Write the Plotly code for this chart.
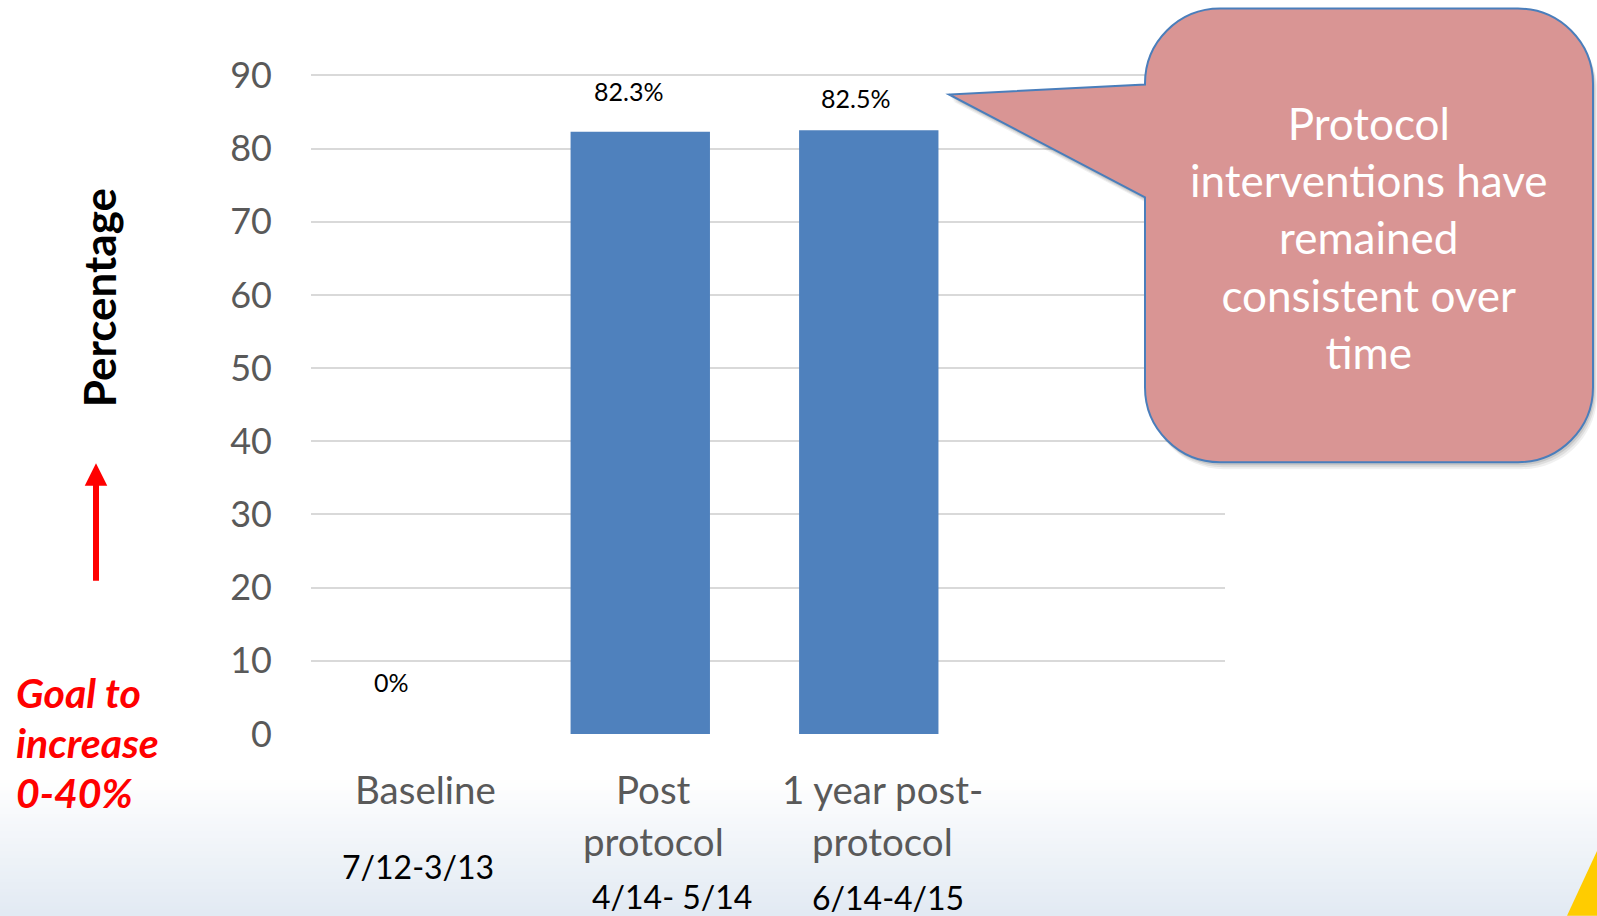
import plotly.graph_objects as go

# ---------------- data ----------------
categories = ["Baseline", "Post protocol", "1 year post-protocol"]
category_lines = [["Baseline"], ["Post", "protocol"], ["1 year post-", "protocol"]]
periods = ["7/12-3/13", "4/14- 5/14", "6/14-4/15"]
values = [0, 82.3, 82.5]
y_ticks = [0, 10, 20, 30, 40, 50, 60, 70, 80, 90]
callout_lines = ["Protocol", "interventions have", "remained", "consistent over", "time"]
goal_lines = ["Goal to", "increase", "0-40%"]
y_title = "Percentage"

# ---------------- layout geometry (pixels) ----------------
W, H = 1597, 916
YMAX = 90.2
ML, MR, MB = 311, 372, 182
PH = (H - MB - 75) * YMAX / 90
MT = H - MB - PH
PW = W - ML - MR
FONT = "Lato"


def px(x):
    return (x - ML) / PW


def py(y):
    return (H - MB - y) / PH


def path_from(points_cmds):
    out = []
    for cmd, pts in points_cmds:
        coords = " ".join(f"{px(x):.5f},{py(y):.5f}" for x, y in pts)
        out.append(f"{cmd}{coords}")
    return " ".join(out) + " Z"


def callout(L, T, R, B, r, p_top, p_bot, tip, dx=0, dy=0):
    L, R, T, B = L + dx, R + dx, T + dy, B + dy
    tip = (tip[0] + dx, tip[1] + dy)
    p_top, p_bot = p_top + dy, p_bot + dy
    k = 0.5523 * r
    cmds = [
        ("M", [(L + r, T)]),
        ("L", [(R - r, T)]),
        ("C", [(R - r + k, T), (R, T + r - k), (R, T + r)]),
        ("L", [(R, B - r)]),
        ("C", [(R, B - r + k), (R - r + k, B), (R - r, B)]),
        ("L", [(L + r, B)]),
        ("C", [(L + r - k, B), (L, B - r + k), (L, B - r)]),
        ("L", [(L, p_bot)]),
        ("L", [tip]),
        ("L", [(L, p_top)]),
        ("L", [(L, T + r)]),
        ("C", [(L, T + r - k), (L + r - k, T), (L + r, T)]),
    ]
    return path_from(cmds)


fig = go.Figure()

fig.add_trace(go.Bar(
    x=categories, y=values,
    marker=dict(color="#4F81BD", line=dict(width=0)),
    width=0.61, offset=-0.364,
    hoverinfo="skip", showlegend=False,
))

shapes = []
# bottom gradient band
n = 40
g0, g1 = 780, H
for i in range(n):
    t = (i + 0.5) / n
    c = (int(255 + (226 - 255) * t), int(255 + (234 - 255) * t), int(255 + (243 - 255) * t))
    y0 = g0 + (g1 - g0) * i / n
    y1 = g0 + (g1 - g0) * (i + 1) / n + 1
    shapes.append(dict(type="rect", xref="paper", yref="paper",
                       x0=px(0), x1=px(W), y0=py(y1), y1=py(y0),
                       fillcolor=f"rgb{c}", line=dict(width=0), layer="below"))
# yellow corner
shapes.append(dict(type="path", xref="paper", yref="paper",
                   path=path_from([("M", [(W, 851)]), ("L", [(W, H)]), ("L", [(1567, H)])]),
                   fillcolor="#FFCC00", line=dict(width=0), layer="above"))

# callout shadow + body
geom = dict(L=1145, T=8, R=1593, B=462, r=75, p_top=84, p_bot=197, tip=(949, 94))
for d, a in [(7, 0.06), (5, 0.08), (3, 0.10)]:
    shapes.append(dict(type="path", xref="paper", yref="paper",
                       path=callout(**geom, dx=d * 0.6, dy=d),
                       fillcolor=f"rgba(0,0,0,{a})", line=dict(width=0), layer="above"))
shapes.append(dict(type="path", xref="paper", yref="paper",
                   path=callout(**geom),
                   fillcolor="#D99594", line=dict(color="#4A7EBB", width=2), layer="above"))

annotations = []
# data labels
label_shift = [(-33.5, 52), (-25, 41), (-26.5, 32)]
for c, v, (xs, ys) in zip(categories, values, label_shift):
    annotations.append(dict(x=c, y=v, xref="x", yref="y", text=f"{v:g}%",
                            showarrow=False, xanchor="center", yanchor="middle",
                            xshift=xs, yshift=ys,
                            font=dict(family=FONT, size=25, color="#000000")))
# category labels
for c, lines in zip(categories, category_lines):
    for j, line in enumerate(lines):
        annotations.append(dict(x=c, y=py(789 + 52 * j), xref="x", yref="paper", text=line,
                                showarrow=False, xanchor="center", yanchor="middle",
                                font=dict(family=FONT, size=38.5, color="#595959")))
# period labels
period_pos = [(-7, 867), (18, 897), (6, 898)]
for c, p, (xs, yy) in zip(categories, periods, period_pos):
    annotations.append(dict(x=c, y=py(yy), xref="x", yref="paper", text=p,
                            showarrow=False, xanchor="center", yanchor="middle", xshift=xs,
                            font=dict(family=FONT, size=32, color="#000000")))
# y title
annotations.append(dict(x=px(99), y=py(298), xref="paper", yref="paper", text=f"<b>{y_title}</b>",
                        showarrow=False, textangle=-90, xanchor="center", yanchor="middle",
                        font=dict(family=FONT, size=44, color="#000000")))
# red arrow
annotations.append(dict(x=px(96), y=py(463), xref="paper", yref="paper",
                        ax=0, ay=582 - 463, axref="pixel", ayref="pixel",
                        text="", showarrow=True, arrowhead=2, arrowsize=0.75, arrowwidth=6,
                        arrowcolor="#FF0000", standoff=0))
# goal text (one annotation per line)
for j, g in enumerate(goal_lines):
    annotations.append(dict(x=px(14), y=py(692.5 + 50 * j), xref="paper", yref="paper",
                            text=f"<b><i>{g}</i></b>",
                            showarrow=False, xanchor="left", yanchor="middle", align="left",
                            font=dict(family=FONT, size=41, color="#FF0000")))
# callout text
annotations.append(dict(x=px(1368), y=py(237), xref="paper", yref="paper",
                        text="<br>".join(callout_lines),
                        showarrow=False, xanchor="center", yanchor="middle", align="center",
                        font=dict(family=FONT, size=44, color="#FFFFFF")))

fig.update_layout(
    width=W, height=H,
    margin=dict(l=ML, r=MR, t=MT, b=MB, pad=0, autoexpand=False),
    paper_bgcolor="#FFFFFF", plot_bgcolor="rgba(0,0,0,0)",
    shapes=shapes, annotations=annotations,
    bargap=0.4,
    xaxis=dict(type="category", categoryorder="array", categoryarray=categories,
               range=[-0.5, 3.5], showticklabels=False, showgrid=False,
               zeroline=False, showline=False, ticks="", fixedrange=True),
    yaxis=dict(range=[0, YMAX], tickvals=y_ticks, showgrid=True, gridcolor="#D9D9D9",
               gridwidth=1.5, zeroline=False, showline=False, ticks="",
               ticklabelstandoff=38,
               tickfont=dict(family=FONT, size=36, color="#595959"), fixedrange=True),
    font=dict(family=FONT),
)

fig.write_html("out.html")
